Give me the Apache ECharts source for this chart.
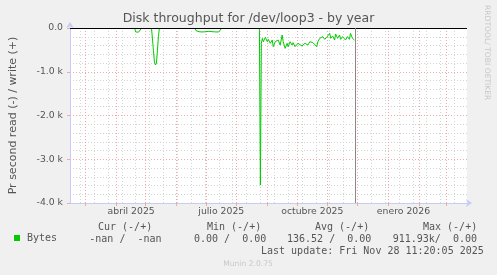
<!DOCTYPE html>
<html>
<head>
<meta charset="utf-8">
<script src="https://cdn.jsdelivr.net/npm/echarts@6/dist/echarts.min.js"></script>
<style>html,body{margin:0;padding:0;background:#f0f0f0}#c{width:497px;height:275px}</style>
</head>
<body>
<div id="c"></div>
<script>
// ---- data ----
const TITLE = 'Disk throughput for /dev/loop3 - by year';
const Y_NAME = 'Pr second read (-) / write (+)';
const SERIES_NAME = 'Bytes';
const DATES = [
  '2025-04-20','2025-04-21','2025-04-24','2025-04-26','2025-04-27','2025-05-01',
  '2025-05-07','2025-05-08','2025-05-09','2025-05-10','2025-05-11','2025-05-12','2025-05-13','2025-05-14','2025-05-15','2025-05-20',
  '2025-06-20','2025-06-21','2025-06-22','2025-06-24','2025-06-25','2025-06-27','2025-06-28','2025-07-01','2025-07-02','2025-07-04',
  '2025-07-06','2025-07-08','2025-07-09','2025-07-11','2025-07-13','2025-07-14','2025-07-16','2025-07-17','2025-07-25',
  '2025-08-24','2025-08-25','2025-08-26','2025-08-27','2025-08-28','2025-08-30','2025-09-01','2025-09-02','2025-09-04','2025-09-06',
  '2025-09-07','2025-09-09','2025-09-11','2025-09-12','2025-09-14','2025-09-16','2025-09-17','2025-09-19','2025-09-21','2025-09-22',
  '2025-09-24','2025-09-26','2025-09-27','2025-09-29','2025-10-01','2025-10-02','2025-10-04','2025-10-06','2025-10-07','2025-10-09',
  '2025-10-11','2025-10-12','2025-10-14','2025-10-16','2025-10-17','2025-10-19','2025-10-21','2025-10-22','2025-10-24','2025-10-26',
  '2025-10-27','2025-10-29','2025-10-31','2025-11-01','2025-11-03','2025-11-04','2025-11-06','2025-11-08','2025-11-09','2025-11-11',
  '2025-11-13','2025-11-14','2025-11-16','2025-11-18','2025-11-19','2025-11-21','2025-11-23','2025-11-24','2025-11-26','2025-11-28'
];
const READ = [
  0,-90,-95,-90,0,null,
  0,-250,-520,-780,-846,-800,-520,-200,0,null,
  0,-60,-40,-85,-70,-90,-70,-85,-90,-75,
  -90,-85,-85,-90,-75,-90,-70,0,null,
  0,-3590,-350,-236,-313,-213,-313,-259,-350,-274,
  -427,-313,-350,-274,-389,-160,-313,-465,-350,-427,
  -313,-389,-335,-427,-389,-350,-389,-411,-427,-350,
  -313,-389,-313,-350,-335,-350,-427,-313,-236,-259,
  -198,-259,-213,-236,-122,-236,-183,-274,-137,-236,
  -160,-259,-198,-236,-274,-198,-259,-122,-236,-274
];
const NOW = '2025-11-28T10:20:05Z';
const X_LABELS = ['abril 2025','julio 2025','octubre 2025','enero 2026'];
const X_LABEL_MONTHS = ['2025-04','2025-07','2025-10','2026-01'];
const Y_TICKS = [0,-1000,-2000,-3000,-4000];
const STAT_HEADERS = ['Cur (-/+)','Min (-/+)','Avg (-/+)','Max (-/+)'];
const STAT_VALUES = ['-nan /  -nan','0.00 /  0.00','136.52 /  0.00','911.93k/  0.00'];
const LAST_UPDATE = 'Last update: Fri Nov 28 11:20:05 2025';
const FOOTER = 'Munin 2.0.75';
const WATERMARK = 'RRDTOOL/ TOBI OETIKER';

// ---- scales / grid helpers ----
const DAY = 86400000;
const X_MIN = Date.UTC(2025,2,1) - 15.3*DAY;
const X_MAX = X_MIN + 401*DAY;
const ts = s => Date.parse(s.length === 10 ? s + 'T00:00:00Z' : s);
const MONTH_TICKS = [];
for (let m = 0; m < 14; m++) { const t = Date.UTC(2025, 2 + m, 1); if (t <= X_MAX) MONTH_TICKS.push(t); }
const MINOR_TICKS = [];
for (let t = Date.UTC(2025,1,24); t <= X_MAX; t += 14*DAY) MINOR_TICKS.push(t);
const LABEL_POS = X_LABEL_MONTHS.map(s => ts(s + '-01') + 15.5*DAY);
const labelFor = v => { const i = LABEL_POS.findIndex(p => Math.abs(p - v) < DAY); return i >= 0 ? X_LABELS[i] : ''; };

const seriesData = DATES.map((d,i) => [ts(d), READ[i]]);

const FONT = 'DejaVu Sans';
const MONO = 'DejaVu Sans Mono';
const TXT = '#555555';
const MAJOR = '#f0a8a8';
const MINOR = '#d4d4d4';
const AXIS = '#c8ccf4';

const chart = echarts.init(document.getElementById('c'), null, {renderer: 'canvas'});
const statTexts = [];
const headerX = [98, 207, 315, 423];
const valueX = [89.3, 194, 287, 392.7];
STAT_HEADERS.forEach((h,i) => statTexts.push({type:'text', x: headerX[i], y: 227.7, style:{text:h, font:'10px "' + MONO + '"', fill:TXT, verticalAlign:'middle'}}));
STAT_VALUES.forEach((h,i) => statTexts.push({type:'text', x: valueX[i], y: 239.3, style:{text:h, font:'10px "' + MONO + '"', fill:TXT, verticalAlign:'middle'}}));

chart.setOption({
  backgroundColor: '#f0f0f0',
  animation: false,
  title: { text: TITLE, left: 'center', top: 12.5, padding: 0,
    textStyle: { fontFamily: FONT, fontSize: 12.5, fontWeight: 'normal', color: TXT } },
  legend: { data: [SERIES_NAME], left: 14, top: 233, padding: 0, icon: 'rect', itemWidth: 6, itemHeight: 6,
    selectedMode: false, textStyle: { fontFamily: MONO, fontSize: 10, color: TXT, padding: [0,0,0,2] } },
  grid: { left: 66, right: 30, top: 28, bottom: 72, show: true, backgroundColor: '#ffffff', borderWidth: 0 },
  xAxis: [
    { type: 'value', min: X_MIN, max: X_MAX, position: 'bottom',
      axisLine: { show: false }, axisLabel: { show: false },
      axisTick: { show: false, customValues: MINOR_TICKS },
      splitLine: { show: true, lineStyle: { color: MINOR, type: [1,2], width: 1 } } },
    { type: 'value', min: X_MIN, max: X_MAX, position: 'bottom',
      axisLine: { show: true, lineStyle: { color: AXIS, width: 1 }, symbol: ['none','arrow'], symbolSize: [6,6], symbolOffset: [0,5] },
      axisTick: { show: true, customValues: MONTH_TICKS, length: 3, lineStyle: { color: MAJOR } },
      axisLabel: { customValues: LABEL_POS, formatter: labelFor, fontFamily: FONT, fontSize: 9.3, color: TXT, margin: 4 },
      splitLine: { show: true, lineStyle: { color: MAJOR, type: [1,2], width: 1 } } }
  ],
  yAxis: {
    type: 'value', min: Y_TICKS[Y_TICKS.length-1], max: Y_TICKS[0], interval: 1000,
    name: Y_NAME, nameLocation: 'middle', nameGap: 51,
    nameTextStyle: { fontFamily: FONT, fontSize: 11, color: TXT },
    axisLine: { show: true, lineStyle: { color: AXIS, width: 1 }, symbol: ['none','arrow'], symbolSize: [6,6], symbolOffset: [0,6] },
    axisTick: { show: true, length: 3, lineStyle: { color: MAJOR } },
    axisLabel: { formatter: v => v === 0 ? '0.0' : (v/1000).toFixed(1) + ' k', fontFamily: FONT, fontSize: 9.3, color: TXT, margin: 7 },
    splitLine: { show: true, lineStyle: { color: MAJOR, type: [1,2], width: 1 } },
    minorTick: { show: false, splitNumber: 5 },
    minorSplitLine: { show: true, lineStyle: { color: MINOR, type: [1,2], width: 1 } }
  },
  series: [{
    name: SERIES_NAME, type: 'line', xAxisIndex: 1, data: seriesData,
    symbol: 'none', showSymbol: false, connectNulls: false,
    lineStyle: { color: '#00cc00', width: 1 }, itemStyle: { color: '#00cc00' },
    markLine: { silent: true, symbol: 'none', label: { show: false }, animation: false,
      data: [
        { yAxis: 0, lineStyle: { color: '#000000', type: 'solid', width: 1 } },
        { xAxis: ts(NOW), lineStyle: { color: '#888888', type: 'solid', width: 1 } }
      ] }
  }],
  graphic: statTexts.concat([
    { type:'text', x: 261, y: 251.7, style:{ text: LAST_UPDATE, font:'10px "' + MONO + '"', fill: TXT, verticalAlign:'middle' } },
    { type:'text', x: 248, y: 264, style:{ text: FOOTER, font:'7.6px "' + FONT + '"', fill:'#c8c8c8', align:'center', verticalAlign:'middle' } },
    { type:'text', x: 487, y: 5, rotation: -Math.PI/2, style:{ text: WATERMARK, font:'7.6px "' + FONT + '"', fill:'#c8c8c8', align:'left', verticalAlign:'middle' } }
  ])
});
</script>
</body>
</html>
